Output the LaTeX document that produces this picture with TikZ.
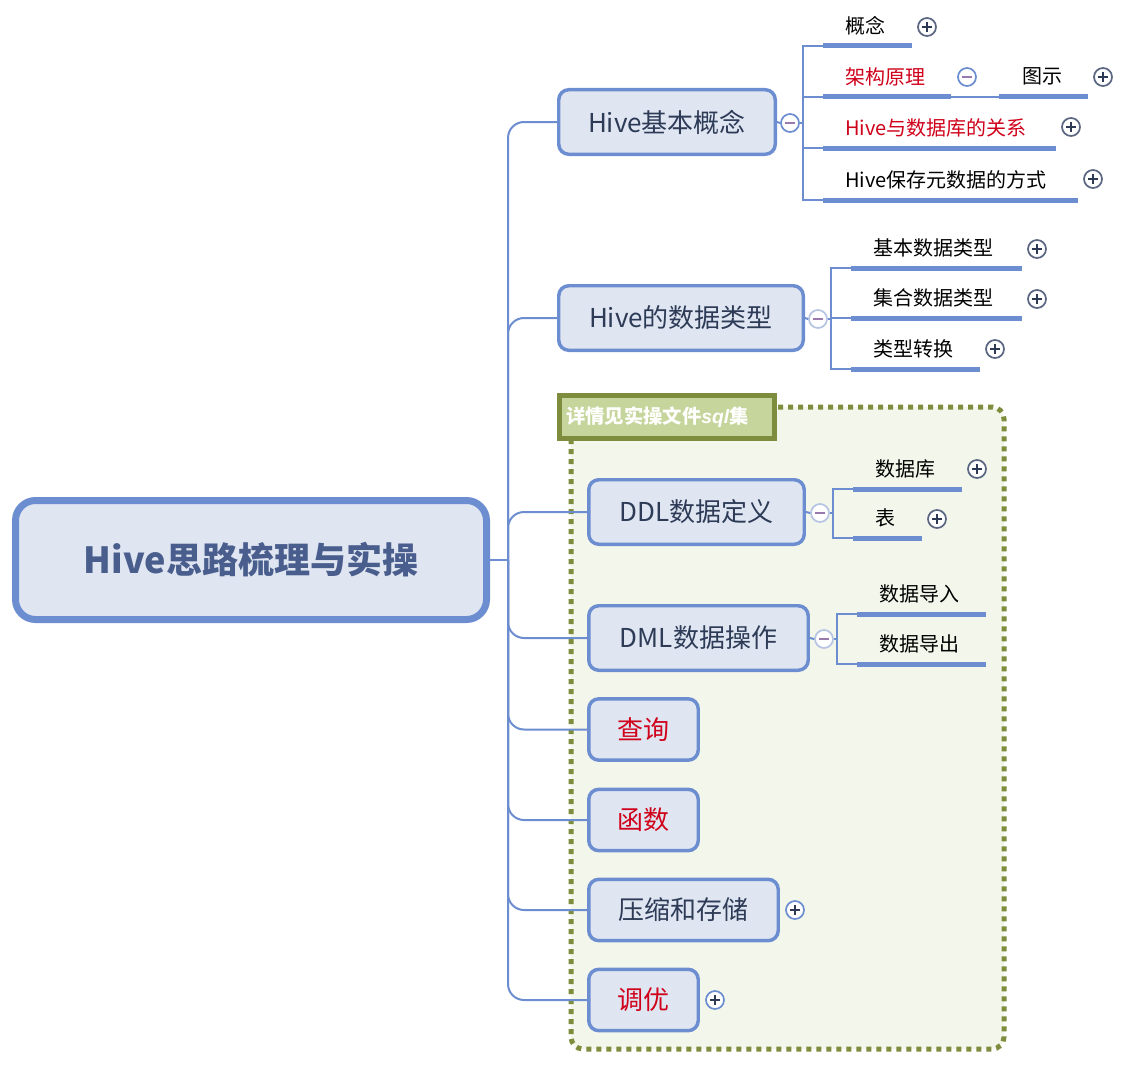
\documentclass[tikz,border=0pt]{standalone}
\usepackage{fontspec}
\usetikzlibrary{backgrounds}
\setmainfont{Noto Sans CJK SC}
\newfontfamily\latsans{Liberation Sans}
\definecolor{linec}{HTML}{6C8ED0}
\definecolor{nodefill}{HTML}{DFE5F1}
\definecolor{nodetext}{HTML}{2D3B57}
\definecolor{roottext}{HTML}{4A5E8E}
\definecolor{redc}{HTML}{D0021B}
\definecolor{olivec}{HTML}{7E8D3D}
\definecolor{labelfill}{HTML}{C6D59B}
\definecolor{bgfill}{HTML}{F3F7EB}
\definecolor{plusc}{HTML}{5B6682}
\definecolor{plussign}{HTML}{2E3A55}
\definecolor{minusl}{HTML}{B6C4E4}
\definecolor{minussign}{HTML}{9A7AAE}
\begin{document}
\begin{tikzpicture}[x=0.75pt,y=-0.75pt,
  rootbox/.style={draw=linec, line width=5.25pt, fill=nodefill, rounded corners=15pt,
    text=roottext, font=\fontsize{27}{31}\selectfont\bfseries, inner sep=0pt,
    minimum width=353.25pt, minimum height=89.25pt},
  branch/.style={draw=linec, line width=2.6pt, fill=nodefill, rounded corners=7.5pt,
    text=nodetext, font=\fontsize{19.5}{23}\selectfont, inner sep=0pt},
  redtext/.style={text=redc},
  sub/.style={anchor=south west, inner sep=0pt, minimum height=30pt, align=left,
    font=\fontsize{15}{18}\selectfont, text=black},
  uline/.style={draw=linec, line width=3.75pt},
  conn/.style={draw=linec, line width=1.5pt},
  plusic/.style={circle, draw=#1, line width=1.3pt, fill=white, minimum size=13.5pt, inner sep=0pt,
    path picture={
      \draw[plussign, line width=1.5pt] ([xshift=-3.5pt]path picture bounding box.center) -- ([xshift=3.5pt]path picture bounding box.center);
      \draw[plussign, line width=1.5pt] ([yshift=-3.5pt]path picture bounding box.center) -- ([yshift=3.5pt]path picture bounding box.center);}},
  plusic/.default=plusc,
  minusic/.style 2 args={circle, draw=#1, line width=1.3pt, fill=white, minimum size=13.5pt, inner sep=0pt,
    path picture={
      \draw[#2, line width=1.5pt] ([xshift=-3.5pt]path picture bounding box.center) -- ([xshift=3.5pt]path picture bounding box.center);}},
  labelbox/.style={draw=olivec, line width=3.75pt, fill=labelfill, minimum width=161.25pt,
    minimum height=32.25pt, text width=151.4pt, inner xsep=4.9pt, inner ysep=0pt, align=left,
    text=white, font=\fontsize{14.5}{17}\selectfont\bfseries}
]
\useasboundingbox (0,0) rectangle (1146,1074);

% boundary (background)
\begin{scope}[on background layer]
\fill[white] (0,0) rectangle (1146,1074);
\draw[olivec, line width=3.75pt, dash pattern=on 3.75pt off 3.75pt, fill=bgfill, rounded corners=9pt]
  (571,407) rectangle (1004,1049);
\end{scope}

% root and branches
\node[rootbox] (root) at (251,560) {Hive思路梳理与实操};

\node[branch, minimum width=162.4pt, minimum height=48.4pt] (b1) at (667,122) {Hive基本概念};
\node[branch, minimum width=183.4pt, minimum height=48.4pt] (b2) at (681,318) {Hive的数据类型};
\node[branch, minimum width=161.6pt, minimum height=48.4pt] (b3) at (696.5,512) {DDL数据定义};
\node[branch, minimum width=164.6pt, minimum height=48.4pt] (b4) at (698.5,638) {DML数据操作};
\node[branch, redtext, minimum width=82.1pt, minimum height=46pt] (b5) at (643.5,729.5) {查询};
\node[branch, redtext, minimum width=82.1pt, minimum height=46pt] (b6) at (643.5,820) {函数};
\node[branch, minimum width=142.1pt, minimum height=46pt] (b7) at (683.5,910) {压缩和存储};
\node[branch, redtext, minimum width=82.1pt, minimum height=46pt] (b8) at (643.5,1000) {调优};

% trunk (background, above boundary)
\coordinate (tk) at (508,560);
\begin{scope}[on background layer]
\draw[conn] (root.east) -- (tk);
\foreach \b in {b1,b2,b3,b4,b5,b6,b7,b8}{
  \draw[conn, rounded corners=12pt] (tk) |- (\b.west);
}
\end{scope}

% label of boundary
\node[labelbox] (lbl) at (667,417) {详情见实操文件{\latsans\bfseries\itshape sql}集};

% ---- group 1
\node[minusic={linec}{minussign}] (m1) at (790,123) {};
\coordinate (g1) at (803,123);
\draw[conn] (b1.east) -- (m1.west);
\draw[conn] (m1.east) -- (g1);
\node[sub, text width=66pt] (s11) at (823,46) {\hspace*{16.5pt}概念};
\node[sub, text width=95.25pt, text=redc] (s12) at (823,97) {\hspace*{16.5pt}架构原理};
\node[sub, text width=66pt] (s13) at (999,97) {\hspace*{17.2pt}图示};
\node[sub, text width=174pt, text=redc] (s14) at (823,148) {\hspace*{16.5pt}Hive与数据库的关系};
\node[sub, text width=190.5pt] (s15) at (823,200) {\hspace*{16.5pt}Hive保存元数据的方式};
\foreach \s in {s11,s12,s14,s15}{
  \draw[conn] (g1) |- (\s.south west);
  \draw[uline] (\s.south west) -- (\s.south east);
}
\draw[conn] (s12.south east) -- (s13.south west);
\draw[uline] (s13.south west) -- (s13.south east);
\node[plusic] (p11) at (927,27) {};
\node[minusic={linec}{minussign}] (m12) at (967,77) {};
\node[plusic] (p13) at (1103,77) {};
\node[plusic] (p14) at (1071,127) {};
\node[plusic] (p15) at (1093,179) {};

% ---- group 2
\node[minusic={minusl}{minussign}] (m2) at (818,319) {};
\coordinate (g2) at (831,319);
\draw[conn] (b2.east) -- (m2.west);
\draw[conn] (m2.east) -- (g2);
\node[sub, text width=127.5pt] (s21) at (851,268) {\hspace*{16.5pt}基本数据类型};
\node[sub, text width=127.5pt] (s22) at (851,318) {\hspace*{16.5pt}集合数据类型};
\node[sub, text width=96pt] (s23) at (851,369) {\hspace*{16.5pt}类型转换};
\foreach \s in {s21,s22,s23}{
  \draw[conn] (g2) |- (\s.south west);
  \draw[uline] (\s.south west) -- (\s.south east);
}
\node[plusic] (p21) at (1037,249) {};
\node[plusic] (p22) at (1037,299) {};
\node[plusic] (p23) at (995,349) {};

% ---- group 3
\node[minusic={minusl}{minussign}] (m3) at (820,513) {};
\coordinate (g3) at (833,513);
\draw[conn] (b3.east) -- (m3.west);
\draw[conn] (m3.east) -- (g3);
\node[sub, text width=81pt] (s31) at (853,489) {\hspace*{16.5pt}数据库};
\node[sub, text width=51pt] (s32) at (853,538) {\hspace*{16.5pt}表};
\foreach \s in {s31,s32}{
  \draw[conn] (g3) |- (\s.south west);
  \draw[uline] (\s.south west) -- (\s.south east);
}
\node[plusic] (p31) at (977,469) {};
\node[plusic] (p32) at (937,519) {};

% ---- group 4
\node[minusic={minusl}{minussign}] (m4) at (824,639) {};
\coordinate (g4) at (837,639);
\draw[conn] (b4.east) -- (m4.west);
\draw[conn] (m4.east) -- (g4);
\node[sub, text width=96pt] (s41) at (857,614) {\hspace*{16.5pt}数据导入};
\node[sub, text width=96pt] (s42) at (857,664) {\hspace*{16.5pt}数据导出};
\foreach \s in {s41,s42}{
  \draw[conn] (g4) |- (\s.south west);
  \draw[uline] (\s.south west) -- (\s.south east);
}

% ---- plus icons of branches
\node[plusic=linec] (p7) at (795,910) {};
\node[plusic=linec] (p8) at (715,1000) {};
\end{tikzpicture}
\end{document}
